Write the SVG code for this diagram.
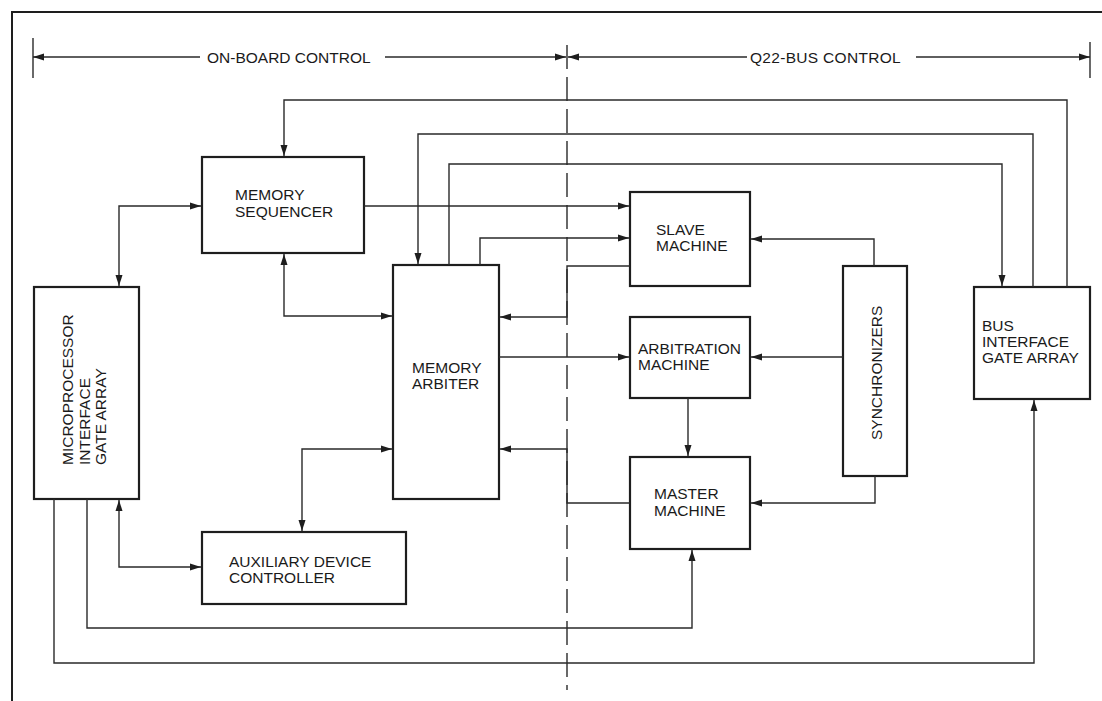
<svg xmlns="http://www.w3.org/2000/svg" width="1102" height="701" viewBox="0 0 1102 701">
<style>
.box{fill:none;stroke:#1e1e1e;stroke-width:2.2}
.ln{fill:none;stroke:#2a2a2a;stroke-width:1.4}
.arr{marker-end:url(#ah)}
.both{marker-end:url(#ah);marker-start:url(#ah)}
.t{font-family:"Liberation Sans",Arial,Helvetica,sans-serif;font-size:15.5px;fill:#1a1a1a}
.frame{fill:none;stroke:#1e1e1e;stroke-width:2}
</style>
<defs>
<marker id="ah" markerWidth="12" markerHeight="8" refX="11" refY="4" orient="auto-start-reverse" markerUnits="userSpaceOnUse">
<path d="M0,0.5 L11,4 L0,7.5 Z" fill="#1e1e1e"/>
</marker>
</defs>
<rect width="1102" height="701" fill="#ffffff"/>
<g id="frame">
<path class="frame" d="M1102 12 H12 V701"/>
</g>
<g id="header">
<path class="ln" d="M33 38 V78"/>
<path class="ln" d="M1090 42 V78"/>
<path class="ln" d="M567 45 V690" stroke-dasharray="24 8"/>
<path class="ln" d="M200 57 H33" style="marker-end:url(#ah)"/>
<path class="ln arr" d="M385 57 H566"/>
<path class="ln" d="M747 57 H568" style="marker-end:url(#ah)"/>
<path class="ln arr" d="M916 57 H1090"/>
<text class="t" x="207" y="63">ON-BOARD CONTROL</text>
<text class="t" x="750" y="63" letter-spacing="0.3">Q22-BUS CONTROL</text>
</g>
<g id="memory-sequencer">
<rect class="box" x="202" y="157" width="162" height="96"/>
<text class="t" x="235" y="200">MEMORY</text>
<text class="t" x="235" y="217">SEQUENCER</text>
</g>
<g id="microprocessor-interface">
<rect class="box" x="34" y="287" width="105" height="212"/>
<text class="t" transform="rotate(-90 73 465)" x="73" y="465">MICROPROCESSOR</text>
<text class="t" transform="rotate(-90 90 465)" x="90" y="465">INTERFACE</text>
<text class="t" transform="rotate(-90 106 465)" x="106" y="465">GATE ARRAY</text>
</g>
<g id="memory-arbiter">
<rect class="box" x="393" y="265" width="106" height="234"/>
<text class="t" x="412" y="373">MEMORY</text>
<text class="t" x="412" y="389">ARBITER</text>
</g>
<g id="slave-machine">
<rect class="box" x="630" y="192" width="120" height="94"/>
<text class="t" x="656" y="235">SLAVE</text>
<text class="t" x="656" y="251">MACHINE</text>
</g>
<g id="arbitration-machine">
<rect class="box" x="630" y="317" width="120" height="81"/>
<text class="t" x="638" y="354">ARBITRATION</text>
<text class="t" x="638" y="370">MACHINE</text>
</g>
<g id="master-machine">
<rect class="box" x="630" y="457" width="120" height="92"/>
<text class="t" x="654" y="499">MASTER</text>
<text class="t" x="654" y="516">MACHINE</text>
</g>
<g id="synchronizers">
<rect class="box" x="843" y="266" width="64" height="210"/>
<text class="t" transform="rotate(-90 882 440)" x="882" y="440">SYNCHRONIZERS</text>
</g>
<g id="bus-interface">
<rect class="box" x="974" y="287" width="116" height="112"/>
<text class="t" x="982" y="331">BUS</text>
<text class="t" x="982" y="347">INTERFACE</text>
<text class="t" x="982" y="363">GATE ARRAY</text>
</g>
<g id="aux-controller">
<rect class="box" x="202" y="532" width="204" height="72"/>
<text class="t" x="229" y="567">AUXILIARY DEVICE</text>
<text class="t" x="229" y="583">CONTROLLER</text>
</g>
<g id="connectors">
<path class="ln arr" d="M1067 287 V100 H284 V156"/>
<path class="ln arr" d="M1033 287 V134 H418 V264"/>
<path class="ln arr" d="M449 265 V164 H1002 V286"/>
<path class="ln arr" d="M364 206 H629"/>
<path class="ln arr" d="M480 265 V238 H629"/>
<path class="ln arr" d="M630 266 H567 V317 H500"/>
<path class="ln both" d="M119 286 V206 H201"/>
<path class="ln both" d="M284 254 V316 H392"/>
<path class="ln arr" d="M874 266 V239 H751"/>
<path class="ln arr" d="M843 357 H751"/>
<path class="ln arr" d="M499 357 H629"/>
<path class="ln arr" d="M688 398 V456"/>
<path class="ln arr" d="M630 503 H567 V449 H500"/>
<path class="ln arr" d="M875 476 V503 H751"/>
<path class="ln both" d="M302 531 V449 H392"/>
<path class="ln both" d="M119 500 V567 H201"/>
<path class="ln arr" d="M87 499 V628 H692 V550"/>
<path class="ln arr" d="M54 499 V663 H1034 V400"/>
</g>
</svg>
